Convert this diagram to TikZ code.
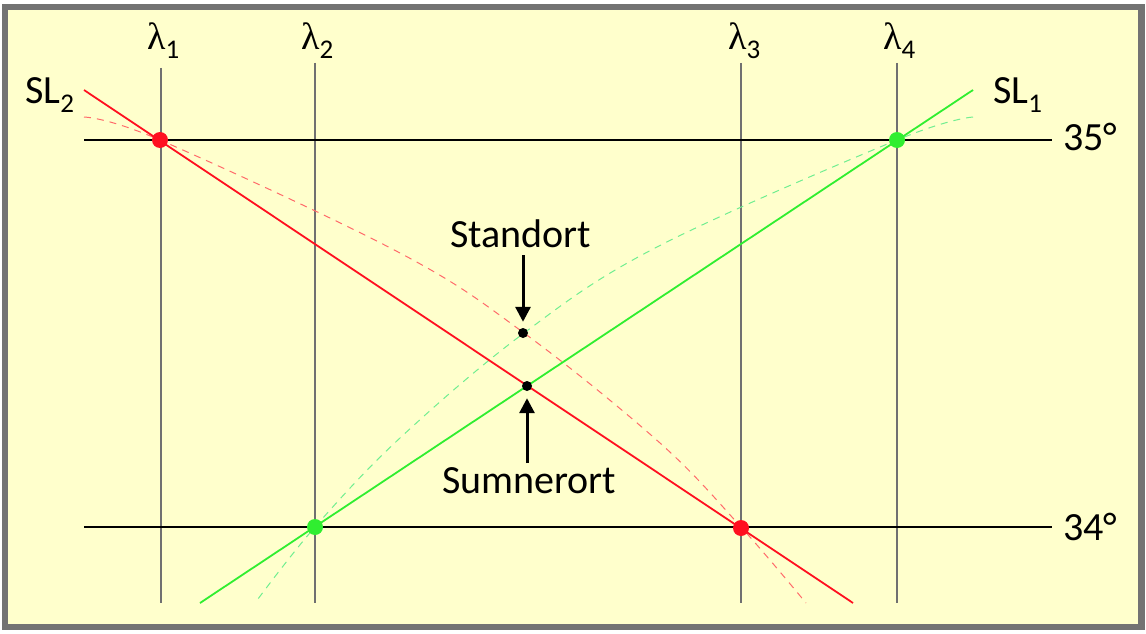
\documentclass[tikz,border=0pt]{standalone}
\usepackage{fontspec}
\setmainfont{Carlito}
\newfontfamily\lamfont{Liberation Serif}
\usetikzlibrary{arrows.meta}
\definecolor{bg}{HTML}{FFFFCC}
\definecolor{framegray}{HTML}{737373}
\definecolor{myred}{HTML}{FF1020}
\definecolor{mygreen}{HTML}{30EE30}
\definecolor{lred}{HTML}{FF6A6A}
\definecolor{lgreen}{HTML}{70EE90}
\definecolor{vgray}{HTML}{707070}
\newcommand{\sbs}[1]{\raisebox{-9pt}{\fontsize{27}{27}\selectfont #1}}
\newcommand{\lam}{{\lamfont\fontsize{38}{40}\selectfont λ}}
\tikzset{
  lbl/.style={inner sep=0pt, anchor=base west, font=\fontsize{40}{44}\selectfont},
  meridian/.style={draw=vgray, line width=1.3pt},
  parallel/.style={draw=black, line width=1.6pt},
  redline/.style={draw=myred, line width=1.8pt},
  greenline/.style={draw=mygreen, line width=1.8pt},
  reddash/.style={draw=lred, line width=1pt, dash pattern=on 7pt off 6pt},
  greendash/.style={draw=lgreen, line width=1pt, dash pattern=on 7pt off 6pt},
  bigdot/.style={circle, inner sep=0pt, minimum size=16pt},
  smalldot/.style={circle, fill=black, inner sep=0pt, minimum size=10pt},
  arr/.style={line width=3pt, -{Triangle[length=15pt,width=15pt]}}
}
\begin{document}
\begin{tikzpicture}[x=1pt,y=-1pt]
\useasboundingbox (0,0) rectangle (1146,634);
\draw[draw=framegray, line width=6.5pt, fill=bg] (5,7) rectangle (1141.5,627);

% meridians
\draw[meridian] (161,68) -- (161,603);
\draw[meridian] (315,63) -- (315,603);
\draw[meridian] (741,63) -- (741,603);
\draw[meridian] (897,63) -- (897,603);

% parallels
\draw[parallel] (84,140) -- (1052,140);
\draw[parallel] (84,527) -- (1052,527);

% dashed circles of position
\draw[reddash] plot[smooth, tension=0.6] coordinates {(84,117) (160,140) (400,253) (524,333) (660,443) (741,527) (806,603)};
\draw[greendash] plot[smooth, tension=0.6] coordinates {(973,117) (897,140) (657,247) (524,333) (400,438) (315,527) (255,603)};

% lines of position
\coordinate (r1) at (84,90);
\coordinate (r2) at (853,603);
\coordinate (g1) at (200,603);
\coordinate (g2) at (973,90);
\draw[redline] (r1) -- (r2);
\draw[greenline] (g1) -- (g2);

% intersection dots
\node[bigdot, fill=myred] (p1) at (160,140) {};
\node[bigdot, fill=myred] (p2) at (741,528) {};
\node[bigdot, fill=mygreen] (p3) at (897,140) {};
\node[bigdot, fill=mygreen] (p4) at (315,527) {};

\node[smalldot] (std) at (523,333) {};
\node[smalldot] (sum) at (527,386) {};

% labels
\node[lbl] (l1) at (147,50) {\lam\sbs{1}};
\node[lbl] (l2) at (301,50) {\lam\sbs{2}};
\node[lbl] (l3) at (728,50) {\lam\sbs{3}};
\node[lbl] (l4) at (883,50) {\lam\sbs{4}};
\node[lbl] (sl2) at (25,103) {SL\sbs{2}};
\node[lbl] (sl1) at (993,103) {SL\sbs{1}};
\node[lbl] (d35) at (1063,150) {35°};
\node[lbl] (d34) at (1063,540) {34°};
\node[lbl] (tstd) at (450,247) {Standort};
\node[lbl] (tsum) at (442,493) {Sumnerort};

% arrows
\coordinate (a1) at (523,255);
\coordinate (a2) at (527,463);
\draw[arr, shorten >=6pt] (a1) -- (std);
\draw[arr, shorten >=7pt] (a2) -- (sum);
\end{tikzpicture}
\end{document}
